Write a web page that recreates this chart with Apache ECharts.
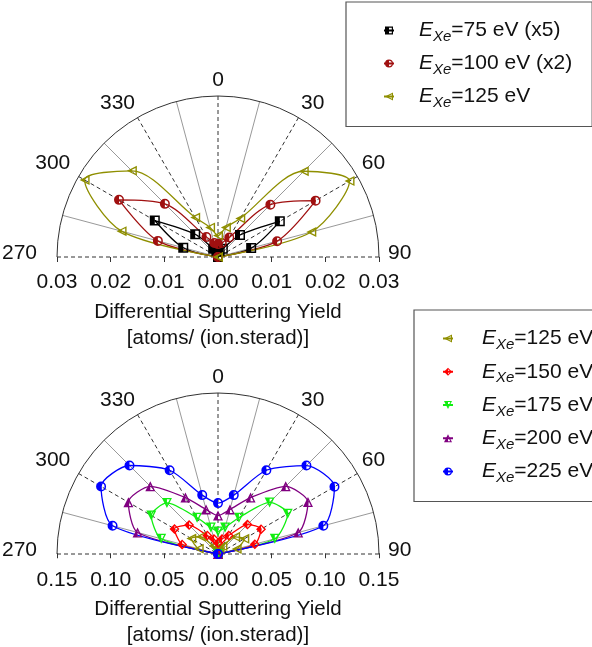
<!DOCTYPE html>
<html>
<head>
<meta charset="utf-8">
<script src="https://cdn.jsdelivr.net/npm/echarts@6/dist/echarts.min.js"></script>
<style>
html, body { margin: 0; padding: 0; background: #fff; }
#chart { width: 592px; height: 647px; }
</style>
</head>
<body>
<div id="chart"></div>
<script>
// polar angles (deg), 270..360 written as negatives
const angles = [-90, -75, -60, -45, -30, -15, 0, 15, 30, 45, 60, 75, 90];

// upper plot
const y75 = [0, 0.0067, 0.0136, 0.0060, 0.0018, 0.0012, 0.0010, 0.0012, 0.0018, 0.0058, 0.0133, 0.0064, 0];
const y100 = [0, 0.0116, 0.0213, 0.0140, 0.0043, 0.0027, 0.0024, 0.0027, 0.0042, 0.0138, 0.0210, 0.0114, 0];
const y125 = [0, 0.0186, 0.0287, 0.0227, 0.0085, 0.0057, 0.0040, 0.0057, 0.0083, 0.0226, 0.0283, 0.0180, 0];

// lower plot
const y150 = [0, 0.0346, 0.0468, 0.0381, 0.0199, 0.0144, 0.0100, 0.0144, 0.0199, 0.0388, 0.0463, 0.0355, 0];
const y175 = [0, 0.0548, 0.0718, 0.0673, 0.0390, 0.0256, 0.0210, 0.0256, 0.0390, 0.0680, 0.0750, 0.0548, 0];
const y200 = [0, 0.0776, 0.0964, 0.0892, 0.0607, 0.0430, 0.0358, 0.0430, 0.0607, 0.0892, 0.0968, 0.0774, 0];
const y225 = [0, 0.1017, 0.1258, 0.1166, 0.0901, 0.0568, 0.0474, 0.0568, 0.0901, 0.1165, 0.1253, 0.1016, 0];

const namesTop = ['75 eV (x5)', '100 eV (x2)', '125 eV'];
const namesBottom = ['125 eV', '150 eV', '175 eV', '200 eV', '225 eV'];

// half filled markers (outer shape + reversed hole on the right half)
const symSquare = 'path://M0,0H10V10H0Z M5,1.5V8.5H8.5V1.5Z';
const symCircle = 'path://M0,5A5,5,0,1,1,10,5A5,5,0,1,1,0,5Z M5,1.5L5,8.5A3.5,3.5,0,0,0,5,1.5Z';
const symLeftTri = 'path://M0,5L10,0L10,10Z M5,3.95L5,6.05L8.6,7.85L8.6,2.15Z';
const symDiamond = 'path://M5,0L10,5L5,10L0,5Z M5,1.84L5,8.16L8.16,5Z';
const symDownTri = 'path://M0,0L10,0L5,10Z M5,1.3L5,7.1L7.9,1.3Z';
const symUpTri = 'path://M5,0L10,10L0,10Z M5,2.9L5,8.7L7.9,8.7Z';

const FONT = 'Liberation Sans';

function mk(name, vals, color, symbol, polarIndex, smooth) {
    return {
        name: name,
        type: 'line',
        coordinateSystem: 'polar',
        polarIndex: polarIndex,
        data: angles.map((a, i) => [vals[i], a]),
        smooth: smooth,
        symbol: symbol,
        symbolSize: 10,
        showAllSymbol: true,
        lineStyle: {color: color, width: 1.3},
        itemStyle: {color: color},
        z: 5
    };
}

function angleLabel(v) {
    if (v === -90) return '{l|270}';
    if (v === -60) return '{m|300}';
    if (v === 90) return '{r|90}';
    return v < 0 ? String(v + 360) : String(v);
}

function angleAxis(idx) {
    return {
        polarIndex: idx,
        type: 'value',
        min: -90,
        max: 90,
        interval: 30,
        startAngle: 180,
        endAngle: 0,
        clockwise: true,
        axisLine: {show: true, lineStyle: {color: '#333', width: 1}},
        axisTick: {show: false},
        axisLabel: {
            show: true, margin: 5, fontSize: 21, fontFamily: FONT, color: '#111',
            formatter: angleLabel,
            rich: {
                l: {fontSize: 21, fontFamily: FONT, color: '#111', padding: [0, 15, 8, 0]},
                m: {fontSize: 21, fontFamily: FONT, color: '#111', padding: [12, 4, 0, 0]},
                r: {fontSize: 21, fontFamily: FONT, color: '#111', padding: [0, 0, 8, 4]}
            }
        },
        splitLine: {show: true, lineStyle: {color: '#333', type: [4, 3], width: 1}},
        minorTick: {show: false, splitNumber: 2},
        minorSplitLine: {show: true, lineStyle: {color: '#999', width: 1}}
    };
}

function radiusAxis(idx, max) {
    return {
        polarIndex: idx,
        type: 'value',
        min: 0,
        max: max,
        axisLine: {show: false},
        axisTick: {show: false},
        axisLabel: {show: false},
        splitLine: {show: false}
    };
}

function xAxis(idx, lim, step, margin, gap) {
    return {
        gridIndex: idx,
        type: 'value',
        min: -lim,
        max: lim,
        interval: step,
        position: 'bottom',
        axisLine: {show: false},
        axisTick: {show: true, length: 5, lineStyle: {color: '#333'}},
        axisLabel: {
            margin: margin, fontSize: 21, fontFamily: FONT, color: '#111',
            formatter: v => Math.abs(v).toFixed(2)
        },
        splitLine: {show: false},
        name: 'Differential Sputtering Yield\n[atoms/ (ion.sterad)]',
        nameLocation: 'middle',
        nameGap: gap,
        nameTextStyle: {fontSize: 20.5, fontFamily: FONT, color: '#111', lineHeight: 26}
    };
}

const legendRich = {
    e: {fontSize: 21, fontStyle: 'italic', fontFamily: FONT, color: '#111', lineHeight: 28},
    s: {fontSize: 15, fontStyle: 'italic', fontFamily: FONT, color: '#111', lineHeight: 12, verticalAlign: 'bottom'},
    t: {fontSize: 21, fontFamily: FONT, color: '#111', lineHeight: 28}
};

function legend(names, left, top, padding, gap, txtPad) {
    return {
        data: names,
        orient: 'vertical',
        left: left,
        top: top,
        padding: padding,
        itemGap: gap,
        itemWidth: 10,
        itemHeight: 10,
        borderColor: '#555',
        borderWidth: 1.2,
        backgroundColor: '#fff',
        selectedMode: false,
        formatter: n => '{e|E}{s|Xe}{t|=' + n + '}',
        textStyle: {padding: [0, 0, 0, txtPad], rich: legendRich}
    };
}

const chart = echarts.init(document.getElementById('chart'));
chart.setOption({
    animation: false,
    backgroundColor: '#fff',
    polar: [
        {center: [218, 257], radius: 161},
        {center: [218, 554], radius: 161}
    ],
    angleAxis: [angleAxis(0), angleAxis(1)],
    radiusAxis: [radiusAxis(0, 0.03), radiusAxis(1, 0.15)],
    grid: [
        {left: 57, width: 322, top: 256, height: 1},
        {left: 57, width: 322, top: 553, height: 1}
    ],
    xAxis: [xAxis(0, 0.03, 0.01, 15, 42), xAxis(1, 0.15, 0.05, 16, 43)],
    yAxis: [
        {gridIndex: 0, show: false, min: 0, max: 1},
        {gridIndex: 1, show: false, min: 0, max: 1}
    ],
    legend: [
        legend(namesTop, 346, 2, [18, 20, 16, 37], 8.5, 20),
        legend(namesBottom, 414, 310, [18, 40, 16, 28], 8.75, 24)
    ],
    series: [
        mk('75 eV (x5)', y75, '#000000', symSquare, 0, 0.3),
        mk('100 eV (x2)', y100, '#a01010', symCircle, 0, 0.3),
        mk('125 eV', y125, '#8f8f00', symLeftTri, 0, 0.3),
        mk('125 eV', y125.map(v => v), '#8f8f00', symLeftTri, 1, 0.25),
        mk('150 eV', y150, '#ff0000', symDiamond, 1, 0.25),
        mk('175 eV', y175, '#11ee11', symDownTri, 1, 0.25),
        mk('200 eV', y200, '#800080', symUpTri, 1, 0.25),
        mk('225 eV', y225, '#0000ff', symCircle, 1, 0.25)
    ]
});
</script>
</body>
</html>
